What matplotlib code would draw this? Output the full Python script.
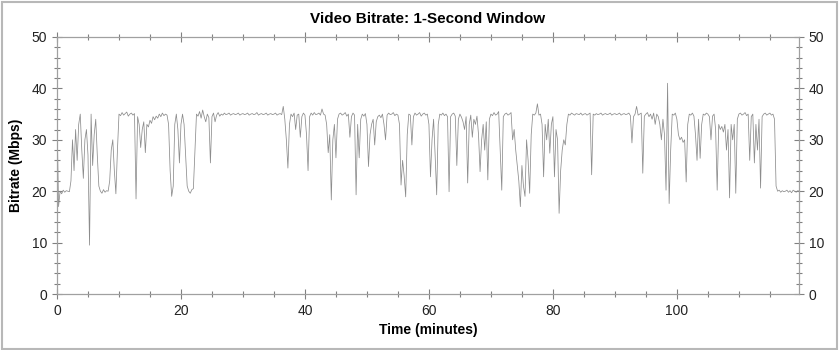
import numpy as np
import matplotlib
matplotlib.use('Agg')
import matplotlib.pyplot as plt
from matplotlib.patches import Rectangle
from matplotlib.ticker import MultipleLocator

plt.rcParams['font.family'] = ['Liberation Sans', 'DejaVu Sans']

# Bitrate samples (Mbps), one every 0.25 minutes
SAMPLE_STEP = 0.25  # minutes between samples
bitrate = [
    35, 17, 20, 19.5, 20.2, 19.8, 20.1, 20, 19.9, 22, 30, 24, 32, 26, 33, 35, 28, 22.5, 30, 32,
    27, 9.5, 35, 25, 31, 34, 27, 21, 20, 19.6, 20.3, 19.8, 20.1, 20, 22, 28, 30, 24, 19.5, 28,
    35, 34.7, 35.3, 34.8, 35.1, 35.4, 34.6, 35, 35.2, 34.8, 35.1, 18.5, 34.5, 33, 28.5, 32, 33.5, 27.5, 33, 32.5,
    33.8, 33.2, 34.5, 33.9, 34.6, 34.2, 35, 34.5, 35.2, 34.7, 35, 34.8, 33, 24, 19, 21, 33, 35, 32, 25.5,
    33, 35, 33, 27, 21, 20, 19.6, 20.3, 20.5, 28, 35, 34.6, 35.5, 34.2, 35.8, 34.5, 33.5, 35, 34.3, 25.5,
    34.5, 35.2, 33.5, 34.8, 35.3, 34.6, 35, 34.8, 35.2, 34.9, 35, 35.2, 34.8, 35, 35.1, 34.9, 35, 35.2, 34.8, 35,
    35.1, 34.9, 35, 35.2, 34.8, 35, 35.1, 34.9, 35, 35.3, 34.8, 35, 35.1, 34.9, 35, 35.2, 34.8, 35, 35.1, 34.9,
    35, 35.2, 34.8, 35, 35.1, 34.9, 36.5, 34, 30, 24.5, 33, 35, 34.5, 35.2, 32, 34.8, 35, 30.5, 34.5, 35.2,
    34.8, 31, 24, 34.5, 35.2, 34.8, 35.3, 34.9, 35, 35.2, 34.8, 36, 35, 34.8, 33, 27.5, 31, 18.3, 30, 33,
    26.5, 34, 35, 35.2, 34.8, 35, 35.3, 34.6, 35, 30.5, 34.5, 35.2, 34.8, 19.3, 33, 26.5, 34, 35, 34.6, 35.1,
    33, 24.8, 31, 33, 34, 29, 33.5, 34.5, 34.8, 34.3, 35, 33, 30, 34.8, 35.2, 34.9, 35, 35.3, 34.7, 35,
    34.8, 33, 21.2, 26, 23, 18.9, 31, 35, 34.8, 29, 34.5, 35.2, 34.8, 35, 35.3, 34.6, 35, 35.2, 34.8, 35,
    33, 22.8, 30, 34, 27, 19.3, 33, 35, 34.8, 35.2, 34.7, 35, 34.5, 19.9, 34.5, 35, 35.2, 34.6, 25, 34,
    35, 34.4, 33.5, 32, 34.5, 21.6, 33, 34.8, 30.5, 34, 33, 34.6, 31, 23.8, 30, 33, 28, 33.5, 22.2, 34,
    35, 34.7, 35.3, 34.8, 35, 35.5, 28, 20.2, 34.5, 35, 35.2, 34.8, 35, 35.3, 30, 32, 28, 25, 22, 17,
    25, 21, 19, 30, 26, 19.6, 31, 35, 34.8, 35.2, 37, 34.8, 35, 33, 22.8, 33, 30, 34, 27.4, 33,
    34.5, 22.8, 32, 30, 15.7, 24, 28, 30, 29, 33, 35, 34.8, 35.2, 35, 34.8, 35.1, 35, 34.9, 35.2, 34.8,
    35, 35.1, 34.8, 35, 35.2, 23.2, 35, 34.8, 35.1, 34.9, 35, 35.2, 34.8, 35, 35.1, 34.9, 35, 35.2, 34.8, 35,
    35.1, 34.9, 35, 35.2, 34.8, 35, 35.1, 34.9, 35, 35.2, 34.7, 29.4, 34.5, 35, 36.5, 34.8, 35, 35.2, 23.5, 34.6,
    35, 35.3, 34.5, 35, 34, 35.2, 33, 35, 34.5, 33, 30, 34, 31, 20.2, 41, 17.6, 28, 35, 34.8, 35.2,
    34, 31, 30, 30.5, 29.5, 30, 21.8, 33, 35, 34.8, 35.2, 34.6, 31, 26, 34, 26.4, 33, 35, 34.8, 35.2,
    35, 34.5, 30, 34.6, 35, 32, 20.2, 33, 32, 32.6, 31.5, 33, 28, 32, 18.7, 33, 30, 33, 19.6, 34,
    35, 35.2, 34.8, 35, 35.3, 34.7, 35, 26, 34.5, 35, 25.5, 33, 28, 34, 20.6, 34.5, 35, 35.2, 34.8, 35,
    35.2, 34.8, 35, 34, 21, 20, 20.2, 19.8, 20.1, 19.9, 20, 20.2, 19.8, 20.1, 19.7, 20.2, 20, 19.8, 20.1, 20,
]
time_min = np.arange(len(bitrate)) * SAMPLE_STEP

fig = plt.figure(figsize=(8.4, 3.5), dpi=100)
ax = fig.add_axes([57 / 840, 56 / 350, 742 / 840, 257 / 350])

ax.plot(time_min, bitrate, color='#8c8c8c', linewidth=0.55)

ax.set_xlim(0, 119.7)
ax.set_ylim(0, 50)
ax.xaxis.set_major_locator(MultipleLocator(20))
ax.xaxis.set_minor_locator(MultipleLocator(5))
ax.yaxis.set_major_locator(MultipleLocator(10))
ax.yaxis.set_minor_locator(MultipleLocator(2))

ax.tick_params(which='both', direction='inout', top=True, right=True,
               labelright=True, color='#808080', labelsize=10, labelcolor='#222222')
ax.tick_params(which='major', length=7, width=0.8)
ax.tick_params(which='minor', length=4, width=0.8)
for s in ax.spines.values():
    s.set_color('#a0a0a0')
    s.set_linewidth(0.9)

ax.set_title('Video Bitrate: 1-Second Window', fontsize=11, fontweight='bold', pad=10)
ax.set_xlabel('Time (minutes)', fontsize=10, fontweight='bold', labelpad=4)
ax.set_ylabel('Bitrate (Mbps)', fontsize=10, fontweight='bold', labelpad=6)

# light grey frame round the whole picture
fig.add_artist(Rectangle((0.002, 0.004), 0.995, 0.99, transform=fig.transFigure,
                         fill=False, edgecolor='#b8b8b8', linewidth=1.5))

fig.savefig('out.png', dpi=100)
